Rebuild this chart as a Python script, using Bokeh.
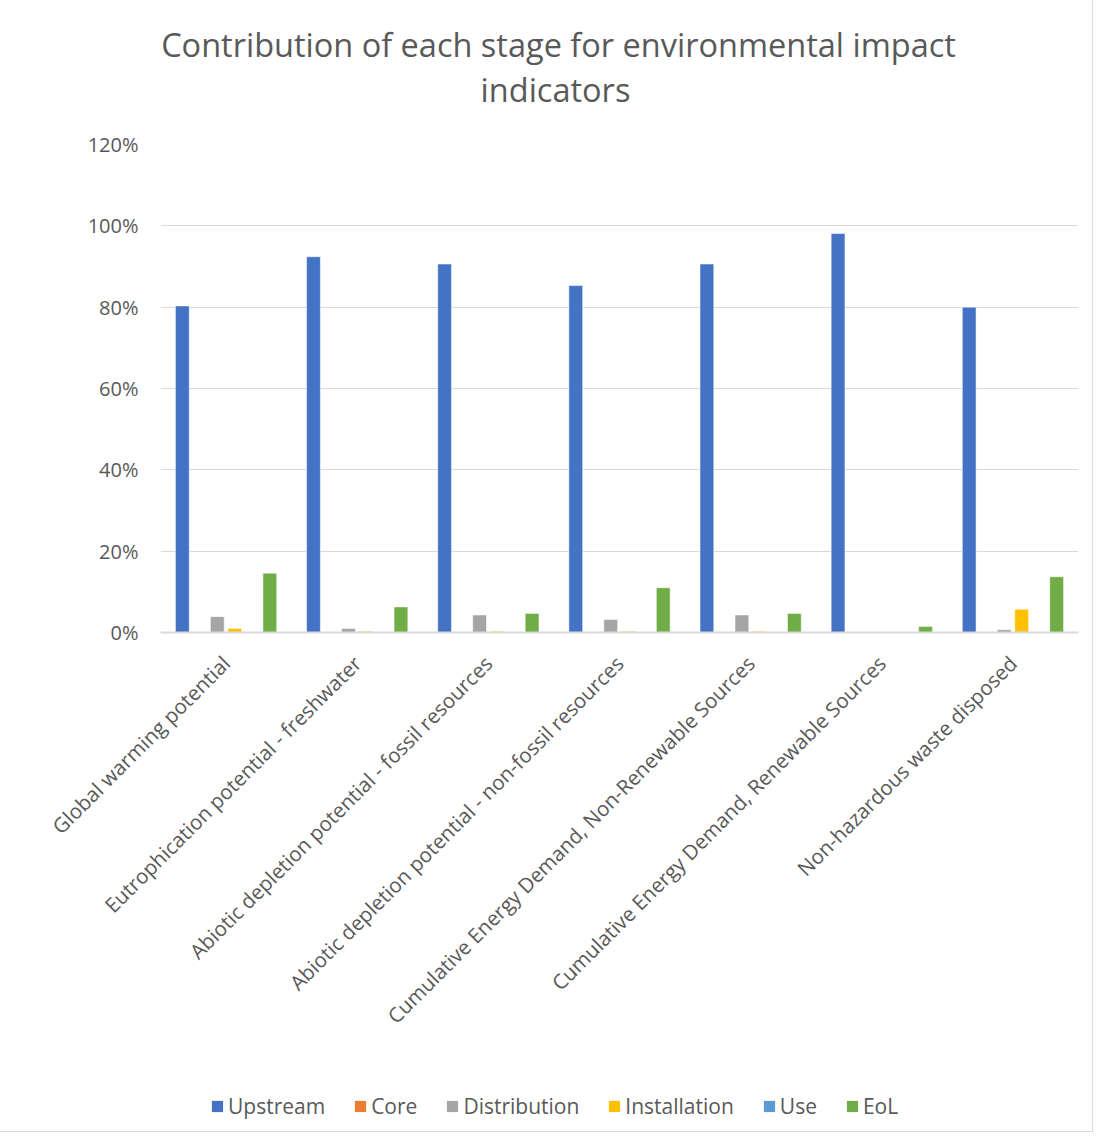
import math
from bokeh.plotting import figure
from bokeh.layouts import column
from bokeh.models import (ColumnDataSource, Legend, LegendItem, NumeralTickFormatter,
                          FixedTicker, Range1d)
from bokeh.core.properties import value
from bokeh.transform import dodge
from bokeh.embed import file_html
from bokeh.resources import INLINE

categories = [
    "Global warming potential",
    "Eutrophication potential - freshwater",
    "Abiotic depletion potential - fossil resources",
    "Abiotic depletion potential - non-fossil resources",
    "Cumulative Energy Demand, Non-Renewable Sources",
    "Cumulative Energy Demand, Renewable Sources",
    "Non-hazardous waste disposed",
]
stages = ["Upstream", "Core", "Distribution", "Installation", "Use", "EoL"]
upstream = [0.803, 0.924, 0.906, 0.853, 0.906, 0.981, 0.800]
core = [0.0, 0.0, 0.0, 0.0, 0.0, 0.0, 0.0]
distribution = [0.039, 0.010, 0.043, 0.032, 0.043, 0.001, 0.007]
installation = [0.010, 0.003, 0.003, 0.003, 0.003, 0.0, 0.057]
use = [0.0, 0.0, 0.0, 0.0, 0.0, 0.0, 0.0]
eol = [0.146, 0.063, 0.047, 0.110, 0.047, 0.015, 0.137]
colors = ["#4472C4", "#ED7D31", "#A5A5A5", "#FFC000", "#5B9BD5", "#70AD47"]
title_lines = ["Contribution of each stage for environmental impact", "indicators"]
y_ticks = [0, 0.2, 0.4, 0.6, 0.8, 1.0, 1.2]

FONT = "Open Sans"
TXT = "#595959"
W = 1092
LEFT = 160
RIGHT = 14
TITLE_H = 124
MAIN_H = 928
LEG_H = 1131 - TITLE_H - MAIN_H

# ---- title strip (frame aligned with main frame; x range = canvas pixels) ----
tp = figure(width=W, height=TITLE_H, output_backend="svg", toolbar_location=None,
            x_range=Range1d(LEFT, W - RIGHT), y_range=Range1d(0, TITLE_H),
            min_border_left=LEFT, min_border_right=RIGHT, min_border_top=0,
            min_border_bottom=0, outline_line_color=None)
tp.axis.visible = False
tp.grid.visible = False
tsrc = ColumnDataSource(dict(x=[558, 555], y=[TITLE_H - 44, TITLE_H - 89], t=title_lines))
tp.text(x="x", y="y", text="t", source=tsrc, text_font=value(FONT), text_font_size="32.5px",
        text_color=TXT, text_align="center", text_baseline="middle")

# ---- main chart ----
series = [upstream, core, distribution, installation, use, eol]
data = {"cat": categories}
for s, v in zip(stages, series):
    data[s] = v
source = ColumnDataSource(data)

p = figure(x_range=categories, width=W, height=MAIN_H, output_backend="svg",
           toolbar_location=None)
p.min_border_left = LEFT
p.min_border_right = RIGHT
p.min_border_top = 20
p.min_border_bottom = MAIN_H - 20 - 488
p.y_range = Range1d(0, 1.2)

step = 0.1334
for i, (s, c) in enumerate(zip(stages, colors)):
    off = (i - 2.5) * step
    p.vbar(x=dodge("cat", off, range=p.x_range), top=s, width=0.105, source=source,
           fill_color=c, line_color="white", line_width=0.5)

p.outline_line_color = None
p.xgrid.grid_line_color = None
p.ygrid.grid_line_color = "#d9d9d9"
p.ygrid.grid_line_width = 1
p.yaxis.ticker = FixedTicker(ticks=y_ticks)
p.yaxis.formatter = NumeralTickFormatter(format="0%")
p.yaxis.axis_line_color = None
p.yaxis.major_tick_line_color = None
p.yaxis.major_tick_out = 0
p.yaxis.minor_tick_line_color = None
p.yaxis.major_label_text_font = FONT
p.yaxis.major_label_text_font_size = "20px"
p.yaxis.major_label_text_color = TXT
p.yaxis.major_label_standoff = 22

p.xaxis.axis_line_color = "#d9d9d9"
p.xaxis.axis_line_width = 2
p.xaxis.major_tick_line_color = None
p.xaxis.major_tick_out = 0
p.xaxis.minor_tick_line_color = None
p.xaxis.major_label_orientation = math.pi / 4
p.xaxis.major_label_text_font = FONT
p.xaxis.major_label_text_font_size = "20.5px"
p.xaxis.major_label_text_color = TXT
p.xaxis.major_label_standoff = 27
p.x_range.range_padding = 0.0
p.x_range.group_padding = 0.0

# ---- legend strip ----
lp = figure(width=W, height=LEG_H, output_backend="svg", toolbar_location=None,
            x_range=Range1d(0, 1), y_range=Range1d(0, 1),
            min_border_left=LEFT, min_border_right=RIGHT, min_border_top=0,
            min_border_bottom=0, outline_line_color=None)
lp.axis.visible = False
lp.grid.visible = False
items = []
for s, c in zip(stages, colors):
    proxy = ColumnDataSource(dict(x=[0.5], top=[0.0]))
    r = lp.vbar(x="x", top="top", bottom=0.0, width=0.0, source=proxy,
                fill_color=c, line_color=None)
    items.append(LegendItem(label=s, renderers=[r]))
legend = Legend(items=items, orientation="horizontal", location=(50, 11))
legend.label_text_font = FONT
legend.label_text_font_size = "21px"
legend.label_text_color = TXT
legend.glyph_width = 14
legend.glyph_height = 14
legend.label_standoff = 4
legend.spacing = 28
legend.padding = 0
legend.margin = 0
legend.border_line_color = None
legend.background_fill_alpha = 0
lp.add_layout(legend, "center")

layout = column(tp, p, lp, spacing=0)
layout.styles = {"outline": "1px solid #d9d9d9"}

open("out.html", "w").write(file_html(layout, INLINE))
